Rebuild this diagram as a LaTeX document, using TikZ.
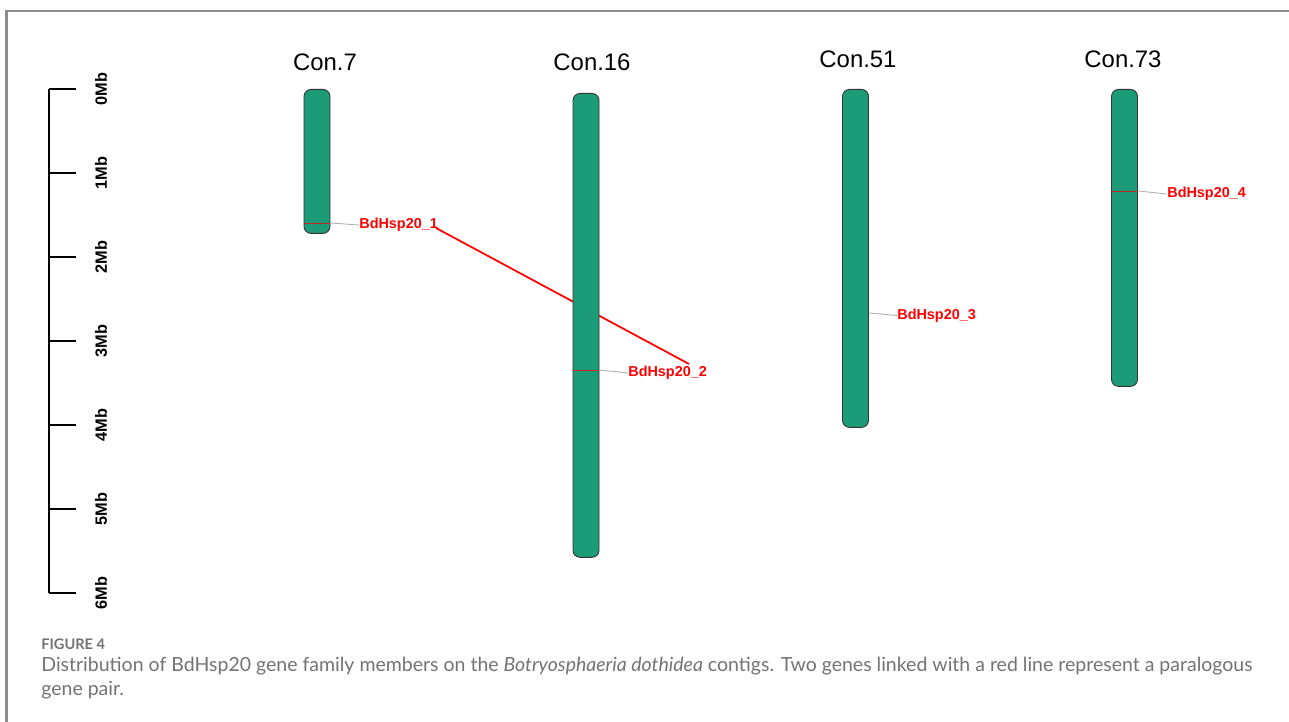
\documentclass[tikz,border=0pt]{standalone}
\usepackage{fontspec}
\setmainfont{Liberation Sans}
\newfontfamily\capfont{Lato}
\definecolor{chromgreen}{RGB}{27,155,118}
\definecolor{framegray}{RGB}{140,140,140}
\definecolor{capgray}{RGB}{115,115,115}
\definecolor{conngray}{RGB}{175,175,175}
\definecolor{markred}{RGB}{190,40,40}
\begin{document}
\begin{tikzpicture}[x=0.02cm,y=-0.02cm,
  chrom/.style={draw=black!80,line width=0.5pt,fill=chromgreen,rounded corners=0.14cm,minimum width=0.52cm,inner sep=0pt,anchor=north},
  conlabel/.style={font=\fontsize{13.6pt}{15pt}\selectfont,inner sep=0pt},
  gene/.style={text=red,font=\bfseries\fontsize{8.2pt}{9pt}\selectfont,inner sep=0pt,anchor=west},
  conn/.style={draw=conngray,line width=0.5pt},
  genemark/.style={draw=markred,line width=0.5pt},
  pair/.style={draw=red,line width=1pt},
  scalebar/.style={draw=black,line width=1.2pt},
  scaletick/.style={draw=black,line width=0.8pt},
  ticklab/.style={font=\bfseries\fontsize{9.3pt}{10pt}\selectfont,rotate=90,inner sep=0pt}]
\useasboundingbox (0,0) rectangle (1289,722);
% frame
\draw[framegray,line width=1.2pt] (6.5,722) -- (6.5,11) -- (1289,11);
% scale bar
\coordinate (s0) at (49,89);
\coordinate (s6) at (49,593);
\draw[scalebar] (s0) -- (s6);
\foreach \i in {0,...,6}{
  \draw[scaletick] (49,89+84*\i) -- (76,89+84*\i);
  \node[ticklab] (t\i) at (101,89+84*\i) {\i Mb};
}
\draw[scalebar] (s6) -- (76,593);
% paralogous pair line (behind chromosomes)
\coordinate (p1) at (436,228);
\coordinate (p2) at (689,364);
\draw[pair] (p1) -- (p2);
% chromosomes
\node[chrom,minimum height=2.88cm] (c7) at (317,89) {};
\node[chrom,minimum height=9.28cm] (c16) at (586,93) {};
\node[chrom,minimum height=6.76cm] (c51) at (855.5,89) {};
\node[chrom,minimum height=5.94cm] (c73) at (1124.5,89) {};
\node[conlabel] (l7) at (325,62) {Con.7};
\node[conlabel] (l16) at (592,62) {Con.16};
\node[conlabel] (l51) at (858,59) {Con.51};
\node[conlabel] (l73) at (1123,59) {Con.73};
% genes
\coordinate (m1) at (0,223);
\coordinate (m2) at (0,370);
\coordinate (m3) at (0,313);
\coordinate (m4) at (0,191);
\draw[genemark] (c7.west |- m1) -- (c7.east |- m1);
\draw[genemark] (c16.west |- m2) -- (c16.east |- m2);
\draw[genemark] (c73.west |- m4) -- (c73.east |- m4);
\node[gene] (g1) at (359,225) {BdHsp20\_1};
\node[gene] (g2) at (628,373) {BdHsp20\_2};
\node[gene] (g3) at (897,315.5) {BdHsp20\_3};
\node[gene] (g4) at (1167,194) {BdHsp20\_4};
\draw[conn] (c7.east |- m1) -- (g1.west);
\draw[conn] (c16.east |- m2) -- (g2.west);
\draw[conn] (c51.east |- m3) -- (g3.west);
\draw[conn] (c73.east |- m4) -- (g4.west);
% caption
\node[anchor=base west,inner sep=0pt,text=capgray,font=\capfont\bfseries\fontsize{8.3pt}{9pt}\selectfont] (fig) at (41,650) {FIGURE 4};
\node[anchor=base west,inner sep=0pt,text=capgray,font=\capfont\fontsize{11.1pt}{13pt}\selectfont] (cap1) at (41,672) {Distribution of BdHsp20 gene family members on the \textit{Botryosphaeria dothidea} contigs. Two genes linked with a red line represent a paralogous};
\node[anchor=base west,inner sep=0pt,text=capgray,font=\capfont\fontsize{11.1pt}{13pt}\selectfont] (cap2) at (41,696) {gene pair.};
\end{tikzpicture}
\end{document}
